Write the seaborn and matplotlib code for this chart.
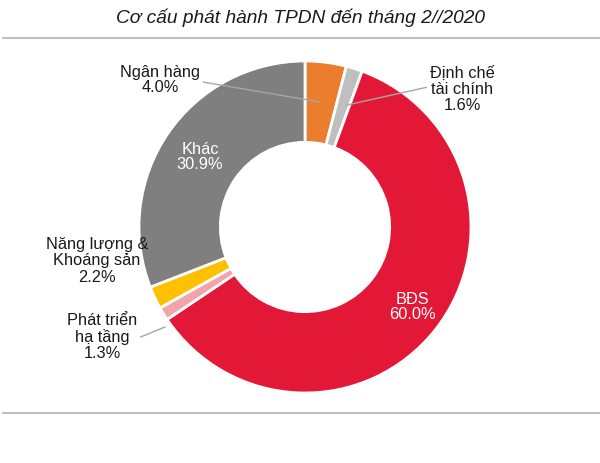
import matplotlib
matplotlib.use("Agg")
import matplotlib.pyplot as plt
import seaborn as sns

# --- data ---
sectors = ["Ngân hàng", "Định chế\ntài chính", "BĐS", "Phát triển\nhạ tầng",
           "Năng lượng &\nKhoáng sản", "Khác"]
shares = [4.0, 1.6, 60.0, 1.3, 2.2, 30.9]
colors = ["#EB7D2E", "#BFBFBF", "#E31837", "#F2A3AC", "#FFC000", "#7F7F7F"]
title = "Cơ cấu phát hành TPDN đến tháng 2//2020"

sns.set_theme(style="white")
plt.rcParams["font.family"] = ["Liberation Sans", "DejaVu Sans"]

W, H = 600, 463
fig = plt.figure(figsize=(W / 100, H / 100), dpi=100)
ax = fig.add_axes([0, 0, 1, 1])

cx, cy, R = 305, H - 227, 166
wedges, _ = ax.pie(shares, colors=colors, startangle=90, counterclock=False,
                   center=(cx, cy), radius=R,
                   wedgeprops=dict(width=R * 0.49, edgecolor="white", linewidth=2))

# pie resets the limits, so set the pixel-like frame afterwards
ax.set_xlim(0, W)
ax.set_ylim(0, H)
ax.set_aspect("equal")
ax.axis("off")

def lab(i):
    return f"{sectors[i]}\n{shares[i]:.1f}%"

fs = 11.8
txt = "#1A1A1A"
# outside labels with leader lines
ax.annotate(lab(0), xy=(320, H - 102), xytext=(160, H - 80), ha="center", va="center",
            fontsize=fs, color=txt, linespacing=1.0,
            arrowprops=dict(arrowstyle="-", color="#A6A6A6", lw=1, shrinkA=0, shrinkB=0,
                            relpos=(1.0, 0.45)))
ax.annotate(lab(1), xy=(347, H - 105), xytext=(462, H - 89), ha="center", va="center",
            fontsize=fs, color=txt, linespacing=1.1,
            arrowprops=dict(arrowstyle="-", color="#A6A6A6", lw=1, shrinkA=0, shrinkB=0,
                            relpos=(0.0, 0.55)))
ax.text(97, H - 261, lab(4), ha="center", va="center", fontsize=fs,
        color=txt, linespacing=1.1)
ax.annotate(lab(3), xy=(165, H - 327), xytext=(102, H - 337), ha="center", va="center",
            fontsize=fs, color=txt, linespacing=1.1,
            arrowprops=dict(arrowstyle="-", color="#A6A6A6", lw=1, shrinkA=0, shrinkB=0,
                            relpos=(1.05, 0.5)))
# inside labels
ax.text(200, H - 157, lab(5), ha="center", va="center", fontsize=fs,
        color="white", linespacing=1.05)
ax.text(412, H - 307, lab(2), ha="center", va="center", fontsize=fs,
        color="white", linespacing=1.05)

# title and rules
ax.text(W / 2, H - 18, title, ha="center", va="center", fontsize=13.8,
        style="italic", color=txt)
ax.plot([3, W], [H - 38, H - 38], color="#BFBFBF", lw=1.5)
ax.plot([3, W], [H - 413, H - 413], color="#BFBFBF", lw=1.5)

fig.savefig("out.png", dpi=100)
